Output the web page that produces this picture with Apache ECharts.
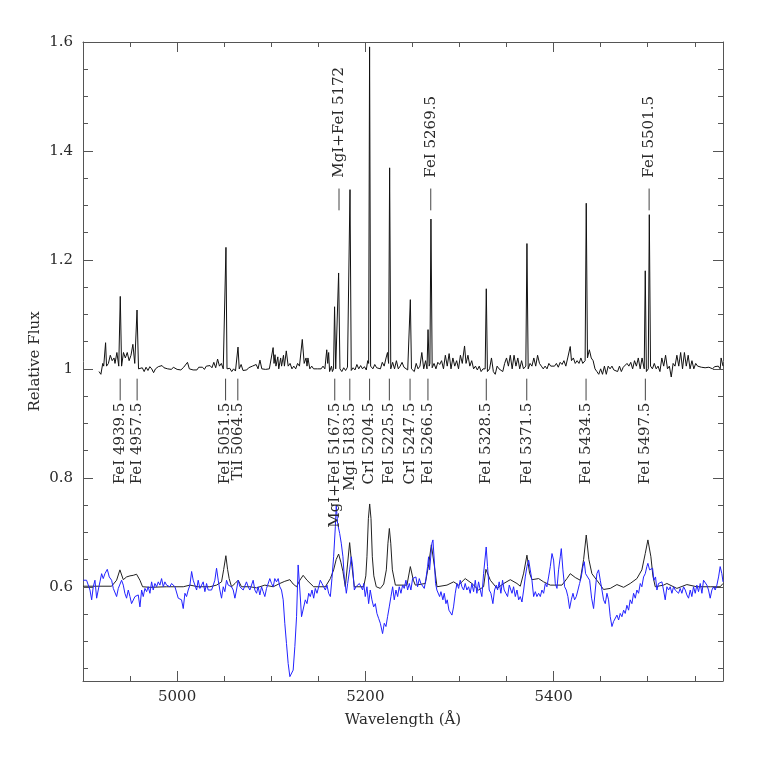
<!DOCTYPE html>
<html>
<head>
<meta charset="utf-8">
<script src="https://cdn.jsdelivr.net/npm/echarts@6/dist/echarts.min.js"></script>
<style>
  html, body { margin: 0; padding: 0; background: #fff; }
  #chart { width: 763px; height: 763px; }
</style>
</head>
<body>
<div id="chart"></div>
<script>
// upper spectrum (emission lines around 1.0)
const upperSpec = [
  [4917,0.995],[4919,0.99],[4921,1.01],[4922,1.005],[4924,1.048],[4925,1.005],[4927,1.01],[4929,1.025],[4931,1.015],
  [4933,1.02],[4934,1.01],[4936,1.03],[4938,1.005],[4939.6,1.133],[4941,1.005],[4943,1.03],[4945,1.02],[4947,1.03],
  [4949,1.015],[4951,1.025],[4953,1.045],[4955,1.01],[4957.4,1.108],[4959,1.0],[4961,0.998],[4963,1.002],[4965,0.995],
  [4967,1.003],[4969,0.997],[4971,1.004],[4973,1.0],[4975,0.993],[4977,1.0],[4980,1.004],[4982,1.001],[4984,1.006],
  [4986,1.002],[4988,1.004],[4990,1.0],[4992,1.002],[4994,0.999],[4996,1.003],[4998,1.001],[5000,0.999],[5002,1.0],
  [5004,0.998],[5007,1.003],[5009,1.002],[5011,1.012],[5013,1.0],[5015,1.002],[5017,0.998],[5019,1.001],[5021,0.998],
  [5023,1.003],[5025,1.0],[5027,1.003],[5029,0.999],[5031,1.005],[5033,1.002],[5035,1.006],[5037,1.002],[5039,1.012],
  [5041,1.002],[5043,1.018],[5045,1.005],[5047,1.01],[5049,1.0],[5050.5,1.0],[5051.9,1.223],[5053,1.0],[5054,0.998],
  [5056,1.001],[5058,0.995],[5060,1.0],[5062,0.996],[5064.7,1.04],[5066,1.0],[5068,1.008],[5070,0.997],[5072,1.0],
  [5074,0.998],[5076,1.002],[5078,0.999],[5080,1.005],[5082,1.002],[5084,1.008],[5086,1.0],[5088,1.016],[5090,1.0],
  [5092,1.002],[5094,0.999],[5096,1.001],[5098,1.0],[5100,1.003],[5102,1.039],[5103,1.01],[5104,1.026],[5105,1.005],
  [5107,1.022],[5108,1.0],[5110,1.02],[5111,1.005],[5113,1.025],[5114,1.005],[5116,1.033],[5118,1.005],[5120,1.01],
  [5122,1.0],[5124,1.005],[5126,1.0],[5128,1.01],[5130,1.005],[5133,1.054],[5135,1.01],[5137,1.02],[5138,1.005],
  [5139,1.02],[5141,1.0],[5143,1.005],[5145,1.0],[5147,1.003],[5149,1.0],[5151,1.002],[5153,1.0],[5155,1.005],
  [5157,1.0],[5159,1.035],[5160,1.01],[5161,1.03],[5162,0.995],[5164,1.005],[5165,0.995],[5166.2,1.0],[5167.3,1.114],
  [5168.5,1.0],[5170.4,1.0],[5171.6,1.176],[5173,1.0],[5175,0.995],[5177,1.002],[5179,0.997],[5181,1.003],[5182.5,1.0],
  [5183.7,1.329],[5185,0.997],[5187,1.002],[5189,0.998],[5191,1.008],[5193,1.0],[5195,1.006],[5197,1.0],[5199,1.004],
  [5201,0.998],[5202.5,1.015],[5203.5,1.01],[5204.5,1.591],[5205.6,1.005],[5208,1.0],[5210,1.008],[5212,1.002],
  [5214,1.003],[5216,1.0],[5218,1.012],[5220,1.005],[5222,1.02],[5223.5,1.03],[5224.7,1.01],[5225.8,1.369],
  [5227,1.0],[5229,1.012],[5231,1.0],[5233,1.015],[5235,1.0],[5237,1.005],[5239,1.012],[5241,1.003],[5243,1.005],
  [5245,0.998],[5246.6,1.0],[5247.8,1.127],[5249,1.0],[5252,0.995],[5254,1.01],[5256,1.0],[5258,1.005],[5260,1.03],
  [5262,1.0],[5264,1.015],[5265.5,1.0],[5266.6,1.072],[5267.8,1.005],[5268.6,1.01],[5269.7,1.275],[5271,1.002],
  [5273,1.01],[5275,1.0],[5277,1.012],[5279,1.008],[5281,1.015],[5283,1.0],[5285,1.025],[5287,1.005],[5289,1.028],
  [5291,1.0],[5293,1.02],[5295,1.005],[5297,1.015],[5299,1.0],[5301,1.025],[5303,1.01],[5305.4,1.042],[5307,1.01],
  [5309,1.025],[5311,1.005],[5313,1.015],[5315,1.0],[5317,1.005],[5319,0.998],[5321,1.005],[5323,0.995],[5325,1.0],
  [5327.3,1.0],[5328.5,1.147],[5329.7,0.995],[5332,1.0],[5334,1.02],[5336,0.995],[5338,0.99],[5340,1.005],[5342,1.0],
  [5344,1.002],[5346,0.995],[5348,1.01],[5350,1.02],[5352,1.005],[5354,1.025],[5356,1.0],[5358,1.025],[5360,1.005],
  [5362,1.02],[5364,1.0],[5366,1.015],[5368,1.0],[5370.5,1.005],[5371.7,1.23],[5373,1.0],[5375,1.01],[5377,1.005],
  [5379,1.02],[5381,1.005],[5383,1.025],[5385,1.01],[5387,1.005],[5389,1.0],[5391,1.005],[5393,1.0],[5395,1.01],
  [5397,1.005],[5399,1.008],[5401,1.005],[5403,1.01],[5405,1.003],[5407,1.012],[5409,1.008],[5411,1.015],[5413,1.005],
  [5415,1.02],[5417.7,1.041],[5419,1.015],[5421,1.02],[5423,1.01],[5425,1.015],[5427,1.01],[5429,1.02],[5431,1.01],
  [5433.5,1.015],[5434.7,1.304],[5436,1.02],[5438,1.035],[5440,1.02],[5442,1.015],[5444,1.0],[5446,0.995],[5448,0.99],
  [5450,1.0],[5452,0.99],[5454,1.005],[5456,0.99],[5458,1.005],[5460,1.0],[5462,1.005],[5464,0.998],[5466,1.0],
  [5468,0.995],[5470,1.005],[5472,0.995],[5474,1.003],[5476,1.0],[5478,1.01],[5480,1.005],[5482,1.012],[5484,1.0],
  [5486,1.015],[5488,1.005],[5490,1.02],[5492,1.0],[5494,1.02],[5496.3,1.0],[5497.4,1.18],[5498.6,0.995],[5500.6,1.0],
  [5501.7,1.283],[5503,1.005],[5505,1.0],[5507,1.01],[5509,1.0],[5511,1.005],[5513,0.995],[5515,1.02],[5517,1.005],
  [5519,1.025],[5521,1.0],[5523,1.005],[5525,0.985],[5527,1.01],[5529,1.005],[5531,1.025],[5533,1.005],[5535,1.03],
  [5537,1.0],[5539,1.03],[5541,1.005],[5543,1.025],[5545,1.0],[5547,1.015],[5549,1.0],[5551,1.01],[5553,1.005],
  [5555,1.008],[5557,1.003],[5559,1.006],[5561,1.002],[5563,1.005],[5565,1.003],[5567,1.005],[5569,1.0],[5571,1.004],
  [5573,1.002],[5575,1.005],[5577,1.0],[5578,1.02],[5580,1.005]
];

// lower black curve (smooth model around 0.6)
const modelSpec = [
  [4900,0.601],[4930.4,0.601],[4935.7,0.612],[4939.2,0.631],[4942.8,0.613],[4946.3,0.618],[4949.9,0.620],[4953.4,0.621],
  [4956.9,0.623],[4960.5,0.612],[4963.3,0.600],[4971.1,0.599],[4988.8,0.600],[5006.5,0.600],[5013.6,0.603],[5022.4,0.600],
  [5034.8,0.600],[5041.9,0.603],[5047.2,0.609],[5049.5,0.632],[5051.8,0.657],[5053.6,0.632],[5055.3,0.615],[5057.8,0.600],
  [5061.5,0.606],[5064.9,0.612],[5068.4,0.600],[5077.3,0.600],[5084.4,0.598],[5093.2,0.603],[5102.1,0.600],[5109.1,0.606],
  [5114.4,0.610],[5119.8,0.613],[5123.3,0.605],[5126.9,0.600],[5130.4,0.612],[5133.9,0.621],[5138.0,0.612],[5145.1,0.600],
  [5157.5,0.600],[5162.8,0.615],[5166.3,0.631],[5169.0,0.650],[5171.6,0.660],[5174.0,0.645],[5176.2,0.628],[5178.7,0.600],
  [5181.0,0.640],[5183.3,0.681],[5185.6,0.640],[5188.3,0.600],[5198.2,0.600],[5200.5,0.620],[5201.7,0.655],[5203.2,0.725],
  [5204.6,0.752],[5206.0,0.725],[5207.4,0.655],[5209.0,0.620],[5211.6,0.600],[5215.9,0.597],[5219.5,0.605],[5222.3,0.631],
  [5224.0,0.680],[5225.5,0.707],[5227.0,0.680],[5228.7,0.631],[5231.9,0.603],[5244.2,0.603],[5247.8,0.637],[5251.0,0.612],
  [5253.1,0.603],[5263.7,0.606],[5267.2,0.640],[5270.1,0.677],[5273.2,0.640],[5276.1,0.600],[5286.7,0.603],[5293.8,0.609],
  [5299.1,0.603],[5306.1,0.615],[5313.2,0.606],[5320.3,0.594],[5325.6,0.600],[5328.1,0.632],[5332.8,0.612],[5339.9,0.597],
  [5347.0,0.606],[5354.0,0.613],[5361.1,0.606],[5364.6,0.601],[5368.2,0.625],[5371.7,0.658],[5374.5,0.625],[5377.0,0.613],
  [5384.1,0.615],[5389.4,0.609],[5396.5,0.603],[5408.9,0.603],[5414.2,0.615],[5417.7,0.624],[5423.0,0.617],[5428.3,0.612],
  [5431.9,0.650],[5434.7,0.695],[5437.5,0.650],[5440.7,0.624],[5446.0,0.612],[5453.1,0.595],[5460.2,0.597],[5467.3,0.604],
  [5474.4,0.599],[5481.4,0.606],[5488.5,0.615],[5493.8,0.631],[5497.4,0.661],[5500.2,0.686],[5503.4,0.655],[5505.5,0.620],
  [5508.0,0.600],[5516.8,0.603],[5520.4,0.606],[5531.0,0.597],[5541.6,0.604],[5552.2,0.600],[5566.4,0.600],[5577.0,0.600],
  [5580,0.606]
];

// lower blue spectrum (observed, noisy)
const blueSpec = [
  [4900.3,0.612],[4903.8,0.612],[4907.4,0.594],[4909.2,0.576],[4910.9,0.600],[4912.7,0.612],[4914.5,0.579],[4916.2,0.594],
  [4918.0,0.609],[4919.8,0.624],[4921.5,0.615],[4923.3,0.624],[4925.8,0.632],[4927.9,0.618],[4930.4,0.612],[4932.2,0.597],
  [4933.9,0.594],[4935.7,0.582],[4937.5,0.597],[4939.2,0.594],[4941.0,0.612],[4942.8,0.603],[4944.5,0.588],[4946.3,0.579],
  [4948.1,0.594],[4949.9,0.582],[4951.6,0.569],[4953.4,0.572],[4955.2,0.582],[4956.9,0.579],[4958.7,0.585],[4960.5,0.563],
  [4962.3,0.594],[4964.0,0.582],[4965.8,0.597],[4967.6,0.591],[4969.3,0.600],[4971.1,0.588],[4972.9,0.609],[4974.6,0.594],
  [4976.4,0.606],[4978.2,0.600],[4980.0,0.609],[4981.7,0.603],[4983.5,0.615],[4985.3,0.600],[4987.0,0.609],[4988.8,0.603],
  [4990.6,0.606],[4992.3,0.600],[4994.1,0.606],[4995.9,0.603],[4997.7,0.600],[4999.4,0.603],[5001.2,0.579],[5003.0,0.582],
  [5004.7,0.576],[5006.5,0.560],[5008.3,0.588],[5010.0,0.582],[5011.8,0.594],[5013.6,0.603],[5015.4,0.628],[5017.1,0.612],
  [5018.9,0.609],[5020.7,0.594],[5022.4,0.612],[5024.2,0.597],[5026.0,0.594],[5027.7,0.609],[5029.5,0.591],[5031.3,0.606],
  [5033.0,0.594],[5034.8,0.597],[5036.6,0.594],[5038.4,0.603],[5040.1,0.612],[5041.9,0.634],[5043.7,0.612],[5045.4,0.594],
  [5047.2,0.579],[5049.0,0.600],[5050.7,0.591],[5052.5,0.612],[5054.3,0.603],[5056.1,0.606],[5057.8,0.600],[5059.6,0.594],
  [5061.4,0.579],[5063.1,0.594],[5064.9,0.612],[5066.7,0.600],[5068.4,0.603],[5070.2,0.594],[5072.0,0.591],[5073.7,0.609],
  [5075.5,0.600],[5077.3,0.594],[5079.1,0.594],[5080.8,0.612],[5082.6,0.594],[5084.4,0.588],[5086.1,0.600],[5087.9,0.585],
  [5089.7,0.600],[5091.4,0.591],[5093.2,0.582],[5095.0,0.597],[5096.7,0.600],[5098.5,0.615],[5100.3,0.606],[5102.1,0.600],
  [5103.8,0.615],[5105.6,0.609],[5107.4,0.615],[5109.1,0.600],[5110.9,0.594],[5112.7,0.576],[5114.4,0.533],[5116.2,0.496],
  [5118.0,0.459],[5119.8,0.435],[5121.5,0.432],[5123.3,0.447],[5125.1,0.490],[5126.9,0.545],[5128.6,0.640],[5130.4,0.594],
  [5132.2,0.545],[5133.9,0.548],[5136.2,0.576],[5138.0,0.569],[5139.8,0.588],[5141.5,0.582],[5143.3,0.594],[5145.1,0.579],
  [5146.8,0.597],[5148.6,0.588],[5150.4,0.600],[5152.1,0.612],[5153.9,0.606],[5155.7,0.609],[5157.5,0.594],[5159.2,0.603],
  [5161.0,0.588],[5162.8,0.582],[5164.5,0.615],[5166.3,0.655],[5168.1,0.710],[5169.1,0.750],[5170.5,0.716],[5172.7,0.698],
  [5174.4,0.680],[5176.2,0.655],[5177.6,0.618],[5179.8,0.588],[5181.2,0.606],[5183.3,0.631],[5185.1,0.655],[5186.5,0.637],
  [5188.3,0.594],[5190.0,0.600],[5191.8,0.597],[5193.6,0.606],[5195.4,0.600],[5197.1,0.594],[5198.2,0.606],[5199.9,0.582],
  [5201.7,0.600],[5203.5,0.569],[5205.2,0.594],[5207.0,0.576],[5208.8,0.563],[5210.6,0.569],[5212.3,0.551],[5214.1,0.542],
  [5215.9,0.533],[5218.3,0.514],[5220.1,0.533],[5221.9,0.527],[5223.6,0.545],[5225.4,0.563],[5227.2,0.582],[5229.0,0.600],
  [5230.7,0.576],[5232.5,0.594],[5234.3,0.582],[5236.0,0.600],[5237.8,0.588],[5239.6,0.603],[5241.3,0.597],[5243.1,0.612],
  [5244.9,0.594],[5246.7,0.606],[5248.4,0.594],[5250.2,0.615],[5252.0,0.612],[5253.7,0.618],[5255.5,0.600],[5257.3,0.615],
  [5259.0,0.606],[5260.8,0.603],[5262.6,0.597],[5264.4,0.615],[5266.1,0.637],[5267.2,0.655],[5268.3,0.631],[5270.7,0.680],
  [5271.8,0.686],[5273.2,0.649],[5274.6,0.606],[5276.0,0.594],[5277.5,0.594],[5278.9,0.582],[5280.3,0.591],[5282.4,0.576],
  [5283.8,0.588],[5285.6,0.569],[5287.0,0.576],[5288.8,0.557],[5292.0,0.548],[5293.7,0.563],[5295.5,0.588],[5297.3,0.606],
  [5299.1,0.597],[5300.8,0.612],[5302.6,0.600],[5304.4,0.594],[5306.1,0.606],[5307.9,0.594],[5309.7,0.600],[5311.4,0.588],
  [5313.2,0.606],[5315.0,0.591],[5316.8,0.612],[5318.5,0.588],[5320.3,0.609],[5322.1,0.594],[5323.8,0.582],[5325.6,0.624],
  [5326.7,0.624],[5328.4,0.673],[5329.8,0.637],[5331.6,0.594],[5333.4,0.588],[5335.5,0.569],[5337.3,0.594],[5339.1,0.603],
  [5340.5,0.594],[5342.2,0.609],[5344.0,0.588],[5345.8,0.612],[5347.5,0.594],[5349.3,0.597],[5351.1,0.582],[5352.9,0.603],
  [5354.6,0.594],[5355.8,0.588],[5357.5,0.600],[5359.3,0.582],[5361.1,0.594],[5362.9,0.576],[5364.6,0.582],[5366.4,0.572],
  [5368.2,0.594],[5369.9,0.618],[5371.7,0.637],[5373.5,0.649],[5375.2,0.631],[5377.0,0.612],[5378.8,0.582],[5380.6,0.591],
  [5382.3,0.582],[5384.1,0.588],[5385.9,0.582],[5387.6,0.594],[5389.4,0.588],[5391.2,0.606],[5392.9,0.600],[5394.7,0.618],
  [5396.5,0.637],[5398.3,0.661],[5400.0,0.649],[5401.8,0.606],[5403.6,0.597],[5405.3,0.631],[5407.1,0.655],[5408.2,0.670],
  [5409.9,0.631],[5411.7,0.600],[5413.5,0.594],[5415.2,0.582],[5417.0,0.560],[5418.8,0.576],[5420.6,0.588],[5422.3,0.576],
  [5424.1,0.582],[5425.9,0.594],[5427.6,0.606],[5429.4,0.618],[5431.2,0.637],[5432.6,0.646],[5434.0,0.624],[5436.1,0.618],
  [5438.3,0.612],[5440.4,0.579],[5442.5,0.560],[5444.3,0.594],[5446.0,0.624],[5447.8,0.631],[5449.6,0.612],[5451.4,0.594],
  [5453.1,0.576],[5454.9,0.569],[5456.7,0.588],[5458.4,0.576],[5460.2,0.545],[5462.0,0.527],[5463.7,0.536],[5465.5,0.533],
  [5467.3,0.548],[5469.1,0.539],[5470.8,0.551],[5472.6,0.545],[5474.4,0.557],[5476.1,0.551],[5477.9,0.566],[5479.7,0.557],
  [5481.4,0.576],[5483.2,0.569],[5485.0,0.588],[5486.8,0.579],[5488.5,0.594],[5490.3,0.588],[5492.1,0.606],[5493.8,0.600],
  [5495.6,0.618],[5497.4,0.624],[5499.1,0.637],[5500.2,0.643],[5502.0,0.631],[5503.4,0.628],[5505.2,0.634],[5506.6,0.612],
  [5508.3,0.618],[5509.8,0.594],[5511.5,0.606],[5513.3,0.603],[5515.1,0.609],[5516.8,0.594],[5518.6,0.576],[5520.4,0.600],
  [5522.2,0.594],[5523.9,0.600],[5525.7,0.588],[5527.5,0.600],[5529.2,0.594],[5531.0,0.597],[5532.8,0.588],[5534.5,0.597],
  [5536.3,0.588],[5538.1,0.600],[5539.9,0.594],[5541.6,0.585],[5543.4,0.579],[5545.2,0.594],[5546.9,0.582],[5548.7,0.600],
  [5550.5,0.588],[5552.2,0.603],[5554.0,0.591],[5555.8,0.606],[5557.6,0.588],[5559.3,0.612],[5561.1,0.612],[5562.9,0.603],
  [5564.6,0.594],[5566.4,0.579],[5568.2,0.594],[5569.9,0.600],[5571.7,0.594],[5573.5,0.603],[5575.3,0.618],[5577.0,0.637],
  [5578.8,0.624],[5580.0,0.609]
];

// line identifications
const upperNames = ['MgI+FeI 5172', 'FeI 5269.5', 'FeI 5501.5'];
const upperWaves = [5172, 5269.5, 5501.5];
const lowerNames = ['FeI 4939.5', 'FeI 4957.5', 'FeI 5051.5', 'TiI 5064.5', 'MgI+FeI 5167.5', 'MgI 5183.5',
  'CrI 5204.5', 'FeI 5225.5', 'CrI 5247.5', 'FeI 5266.5', 'FeI 5328.5', 'FeI 5371.5', 'FeI 5434.5', 'FeI 5497.5'];
const lowerWaves = [4939.5, 4957.5, 5051.5, 5064.5, 5167.5, 5183.5, 5204.5, 5225.5, 5247.5, 5266.5, 5328.5, 5371.5, 5434.5, 5497.5];

const FONT = '"DejaVu Serif", "Liberation Serif", serif';
const AXIS_COLOR = '#555';
const TEXT_COLOR = '#2a2a2a';

function idRenderer(names, yTop, yBottom, yText, align) {
  return function (params, api) {
    const w = api.value(0);
    const p1 = api.coord([w, yTop]);
    const p2 = api.coord([w, yBottom]);
    const pt = api.coord([w, yText]);
    return {
      type: 'group',
      children: [
        { type: 'line', shape: { x1: p1[0], y1: p1[1], x2: p2[0], y2: p2[1] },
          style: { stroke: '#444', lineWidth: 1 } },
        { type: 'text', x: pt[0], y: pt[1], rotation: Math.PI / 2,
          style: { text: names[params.dataIndex], fill: TEXT_COLOR, fontSize: 15, fontFamily: FONT,
                   align: align, verticalAlign: 'middle' } }
      ]
    };
  };
}

function xAxisDef(pos) {
  const bottom = pos === 'bottom';
  return {
    type: 'value', position: pos, min: 4900, max: 5580, splitNumber: 3,
    axisLine: { show: true, onZero: false, lineStyle: { color: AXIS_COLOR, width: 1 } },
    axisTick: { show: true, inside: true, length: 10, lineStyle: { color: AXIS_COLOR } },
    minorTick: { show: true, splitNumber: 4, length: 5, lineStyle: { color: AXIS_COLOR } },
    splitLine: { show: false },
    axisLabel: { show: bottom, showMinLabel: false, showMaxLabel: false, margin: 9,
                 formatter: v => String(v),
                 color: TEXT_COLOR, fontSize: 15, fontFamily: FONT },
    name: bottom ? 'Wavelength (Å)' : '', nameLocation: 'middle', nameGap: 32,
    nameTextStyle: { color: TEXT_COLOR, fontSize: 15, fontFamily: FONT }
  };
}

function yAxisDef(pos) {
  const left = pos === 'left';
  return {
    type: 'value', position: pos, min: 0.427, max: 1.6, splitNumber: 6,
    axisLine: { show: true, onZero: false, lineStyle: { color: AXIS_COLOR, width: 1 } },
    axisTick: { show: true, inside: true, length: 10, lineStyle: { color: AXIS_COLOR } },
    minorTick: { show: true, splitNumber: 4, length: 5, lineStyle: { color: AXIS_COLOR } },
    splitLine: { show: false },
    axisLabel: { show: left, showMinLabel: false, margin: 10,
                 color: TEXT_COLOR, fontSize: 15, fontFamily: FONT },
    name: left ? 'Relative Flux' : '', nameLocation: 'middle', nameGap: 40, nameMoveOverlap: false,
    nameTextStyle: { color: TEXT_COLOR, fontSize: 15, fontFamily: FONT }
  };
}

const chart = echarts.init(document.getElementById('chart'), null, { renderer: 'canvas' });
chart.setOption({
  animation: false,
  backgroundColor: '#fff',
  grid: { left: 83, top: 42, width: 640, height: 639 },
  xAxis: [xAxisDef('bottom'), xAxisDef('top')],
  yAxis: [yAxisDef('left'), yAxisDef('right')],
  series: [
    { type: 'line', data: upperSpec, showSymbol: false, lineStyle: { color: '#111', width: 1 }, z: 2 },
    { type: 'line', data: modelSpec, showSymbol: false, lineStyle: { color: '#222', width: 1 }, z: 2 },
    { type: 'line', data: blueSpec, showSymbol: false, lineStyle: { color: '#2222ff', width: 1 }, z: 3 },
    { type: 'custom', data: upperWaves.map(w => [w, 1.3]), z: 4,
      renderItem: idRenderer(upperNames, 1.331, 1.291, 1.351, 'left') },
    { type: 'custom', data: lowerWaves.map(w => [w, 0.95]), z: 4,
      renderItem: idRenderer(lowerNames, 0.982, 0.942, 0.938, 'right') }
  ]
});
</script>
</body>
</html>
